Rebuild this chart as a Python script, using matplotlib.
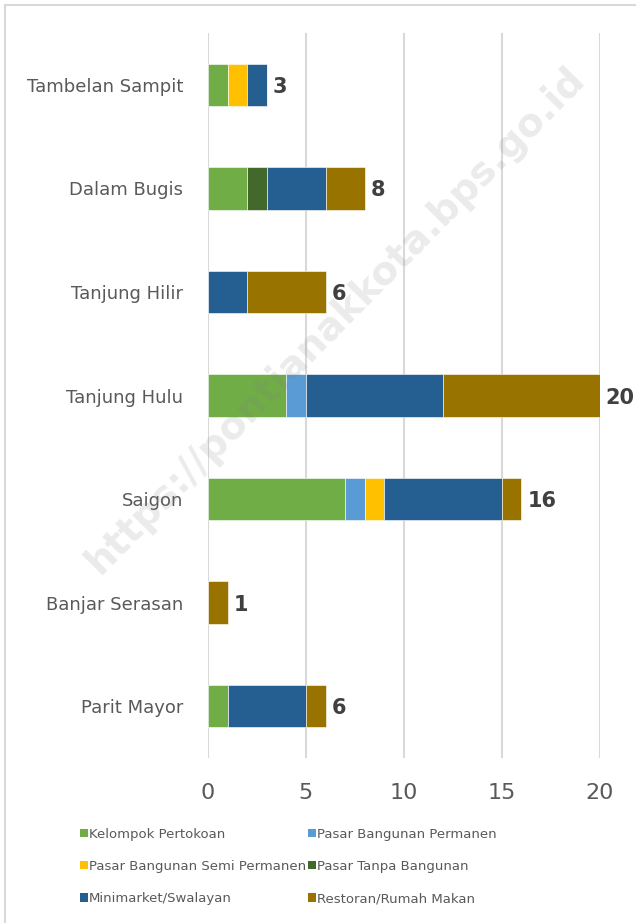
import numpy as np
import matplotlib.pyplot as plt
from matplotlib.lines import Line2D
from matplotlib.patches import Patch

plt.rcParams['font.family'] = ['DejaVu Sans']

# Data (bottom to top)
kelurahan = ["Parit Mayor", "Banjar Serasan", "Saigon", "Tanjung Hulu",
             "Tanjung Hilir", "Dalam Bugis", "Tambelan Sampit"]
kelompok_pertokoan = [1, 0, 7, 4, 0, 2, 1]
pasar_permanen = [0, 0, 1, 1, 0, 0, 0]
pasar_semi_permanen = [0, 0, 1, 0, 0, 0, 1]
pasar_tanpa_bangunan = [0, 0, 0, 0, 0, 1, 0]
minimarket = [4, 0, 6, 7, 2, 3, 1]
restoran = [1, 1, 1, 8, 4, 2, 0]

series = [
    ("Kelompok Pertokoan", kelompok_pertokoan, "#70ad47"),
    ("Pasar Bangunan Permanen", pasar_permanen, "#5b9bd5"),
    ("Pasar Bangunan Semi Permanen", pasar_semi_permanen, "#ffc000"),
    ("Pasar Tanpa Bangunan", pasar_tanpa_bangunan, "#43682b"),
    ("Minimarket/Swalayan", minimarket, "#255e91"),
    ("Restoran/Rumah Makan", restoran, "#997300"),
]

fig = plt.figure(figsize=(6.36, 9.23), dpi=100)
ax = fig.add_axes([0.327, 0.179, 0.616, 0.785])

y = np.arange(len(kelurahan))
left = np.zeros(len(kelurahan))
for name, vals, col in series:
    vals = np.array(vals, dtype=float)
    ax.barh(y, vals, left=left, height=0.41, color=col, label=name,
            edgecolor='white', linewidth=0.4, zorder=2)
    left += vals

# totals
for yi, tot in zip(y, left):
    ax.text(tot + 0.3, yi, f"{int(tot)}", va='center_baseline', ha='left',
            fontsize=15, fontweight='bold', color='#404040', zorder=3)

ax.set_xlim(0, 20)
ax.set_ylim(-0.5, len(kelurahan) - 0.5)
ax.set_xticks([0, 5, 10, 15, 20])
ax.set_yticks(y)
ax.set_yticklabels(kelurahan)
ax.tick_params(axis='y', length=0, pad=18, labelsize=13, labelcolor='#595959')
ax.tick_params(axis='x', length=0, pad=18, labelsize=16, labelcolor='#595959')
ax.grid(axis='x', color='#d9d9d9', linewidth=1.5, zorder=0)
for s in ax.spines.values():
    s.set_visible(False)

# legend filled row by row
order = [0, 2, 4, 1, 3, 5]
handles = [Patch(facecolor=series[i][2], label=series[i][0]) for i in order]
leg = fig.legend(handles=handles, loc='upper left', bbox_to_anchor=(0.107, 0.116),
                 ncol=2, frameon=False, fontsize=9.5, handlelength=0.6,
                 handleheight=0.6, handletextpad=0.1, columnspacing=0.1,
                 labelspacing=1.45, labelcolor='#595959')

# watermark
fig.text(0.527, 0.653, "https://pontianakkota.bps.go.id", rotation=45.5,
         ha='center', va='center', fontsize=28, fontweight='bold',
         color='#808080', alpha=0.16, zorder=10)

# chart border
fig.add_artist(Line2D([0.008, 0.008], [0, 0.995], color='#d9d9d9', lw=1.5,
                      transform=fig.transFigure))
fig.add_artist(Line2D([0.008, 1], [0.995, 0.995], color='#d9d9d9', lw=1.5,
                      transform=fig.transFigure))

fig.savefig("out.png", dpi=100)
